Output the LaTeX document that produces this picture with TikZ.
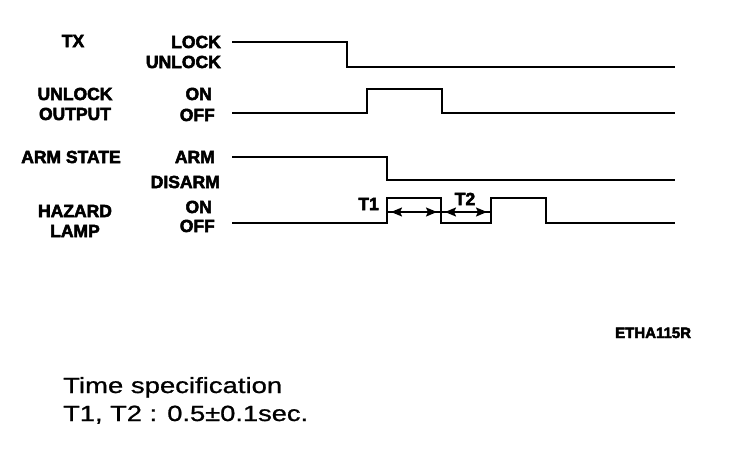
\documentclass[tikz,border=0pt]{standalone}
\usepackage{fontspec}
\setmainfont{Liberation Sans}[FakeBold=0.8]
\newfontfamily\heavyfont{Liberation Sans Bold}[FakeBold=3]
\usetikzlibrary{arrows.meta}
\begin{document}
\begin{tikzpicture}[x=1pt,y=-1pt,
  wave/.style={line width=2pt, line join=miter},
  lbl/.style={font=\heavyfont\fontsize{17.5}{19}\selectfont, inner sep=0pt},
  sig/.style={lbl, anchor=base},
  st/.style={lbl, anchor=base east},
  tline/.style={line width=1.6pt},
  tarrow/.style={tline, {Stealth[length=11pt,width=9pt,inset=2pt]}-{Stealth[length=11pt,width=9pt,inset=2pt]}},
  spec/.style={anchor=base west, inner sep=0pt, font=\fontsize{22}{26}\selectfont}
]
\useasboundingbox (0,0) rectangle (736,448);
% signal names
\node[sig] (tx) at (73,47) {TX};
\node[sig] (uo1) at (75,100) {UNLOCK};
\node[sig] (uo2) at (75,120) {OUTPUT};
\node[sig] (arm) at (71,163) {ARM STATE};
\node[sig] (hz1) at (75,217) {HAZARD};
\node[sig] (hz2) at (75,237) {LAMP};
% state names
\node[st] (lock) at (221,48) {LOCK};
\node[st] (unlock) at (221,68) {UNLOCK};
\node[st] (on1) at (212,100) {ON};
\node[st] (off1) at (215,121) {OFF};
\node[st] (armst) at (215,163) {ARM};
\node[st] (disarm) at (220,188) {DISARM};
\node[st] (on2) at (212,213) {ON};
\node[st] (off2) at (215,232) {OFF};
% waveforms
\draw[wave] (232,42) -- (347,42) -- (347,67) -- (675,67);
\draw[wave] (232,113) -- (367,113) -- (367,89) -- (442,89) -- (442,113) -- (675,113);
\draw[wave] (232,157) -- (387,157) -- (387,180) -- (675,180);
\draw[wave] (232,223) -- (387,223) -- (387,198) -- (441,198) -- (441,223) -- (491,223) -- (491,198) -- (546,198) -- (546,223) -- (675,223);
% timing arrows
\coordinate (t0) at (387,212);
\coordinate (t3) at (491,212);
\coordinate (t1a) at (391,212);
\coordinate (t1b) at (437,212);
\coordinate (t2a) at (445,212);
\coordinate (t2b) at (487,212);
\draw[tline] (t0) -- (t3);
\draw[tarrow] (t1a) -- (t1b);
\draw[tarrow] (t2a) -- (t2b);
\node[st] (T1) at (379,210) {T1};
\node[sig] (T2) at (465,205) {T2};
% figure code
\node[anchor=base west, inner sep=0pt, font=\heavyfont\fontsize{15}{17}\selectfont] (code) at (615,338) {ETHA115R};
% specification
\node[spec] (spec1) at (63,393) {\scalebox{1.25}[1]{Time specification}};
\node[spec] (spec2) at (63,421) {\scalebox{1.24}[1]{T1, T2 : 0.5±0.1sec.}};
\end{tikzpicture}
\end{document}
